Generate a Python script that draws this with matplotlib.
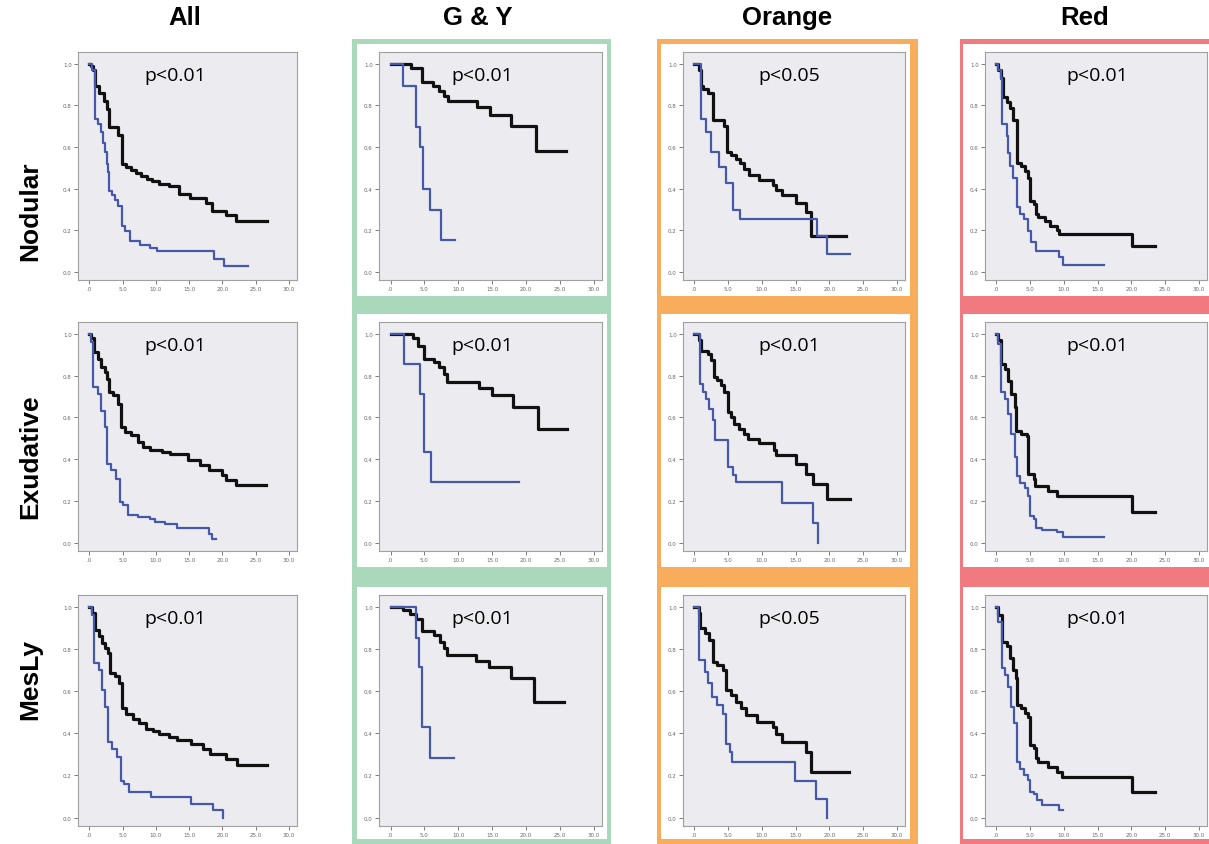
import matplotlib.pyplot as plt
from matplotlib.patches import Rectangle

# column / row names
col_titles = ["All", "G & Y", "Orange", "Red"]
row_titles = ["Nodular", "Exudative", "MesLy"]
p_labels = [["p<0.01", "p<0.01", "p<0.05", "p<0.01"],
            ["p<0.01", "p<0.01", "p<0.01", "p<0.01"],
            ["p<0.01", "p<0.01", "p<0.05", "p<0.01"]]

x_ticks = [0, 5, 10, 15, 20, 25, 30]
x_tick_labels = [".0", "5.0", "10.0", "15.0", "20.0", "25.0", "30.0"]
y_ticks = [0.0, 0.2, 0.4, 0.6, 0.8, 1.0]
y_tick_labels = ["0.0", "0.2", "0.4", "0.6", "0.8", "1.0"]

# ---- Nodular ----
nod_all_blk_t = [0, 0.3, 0.6, 0.86, 1.5, 2.2, 2.7, 3.0, 4.3, 4.9, 5.5, 6.3, 7.0, 7.8, 8.6, 9.4, 10.4, 11.9, 13.4, 15.2, 17.5, 18.5, 20.5, 22.0, 26.7]
nod_all_blk_s = [1.0, 0.99, 0.97, 0.893, 0.86, 0.82, 0.785, 0.694, 0.657, 0.52, 0.505, 0.49, 0.475, 0.458, 0.445, 0.434, 0.42, 0.41, 0.375, 0.354, 0.33, 0.29, 0.274, 0.242, 0.242]
nod_all_blu_t = [0, 0.4, 0.86, 1.3, 1.8, 2.0, 2.3, 2.6, 2.8, 3.0, 3.4, 3.8, 4.3, 4.9, 5.4, 6.1, 7.6, 9.1, 10.1, 18.7, 20.2, 23.8]
nod_all_blu_s = [1.0, 0.97, 0.737, 0.71, 0.673, 0.62, 0.577, 0.52, 0.48, 0.386, 0.37, 0.346, 0.314, 0.218, 0.195, 0.15, 0.13, 0.115, 0.099, 0.059, 0.027, 0.027]

nod_gy_blk_t = [0, 3.0, 4.7, 6.2, 7.1, 7.9, 8.5, 12.7, 14.7, 17.8, 21.5, 25.9]
nod_gy_blk_s = [1.0, 0.978, 0.914, 0.893, 0.87, 0.846, 0.822, 0.79, 0.754, 0.7, 0.583, 0.583]
nod_gy_blu_t = [0, 1.9, 3.8, 4.3, 4.8, 5.8, 7.5, 9.5]
nod_gy_blu_s = [1.0, 0.893, 0.695, 0.6, 0.4, 0.297, 0.151, 0.151]

nod_or_blk_t = [0, 0.6, 0.9, 1.2, 2.0, 2.7, 4.4, 4.8, 5.4, 6.1, 6.7, 7.4, 8.1, 9.6, 11.6, 12.1, 13.0, 15.0, 16.5, 17.3, 22.4]
nod_or_blk_s = [1.0, 0.97, 0.894, 0.878, 0.859, 0.728, 0.701, 0.578, 0.562, 0.543, 0.522, 0.495, 0.467, 0.443, 0.419, 0.395, 0.369, 0.332, 0.285, 0.174, 0.174]
nod_or_blu_t = [0, 1.0, 1.7, 2.5, 3.7, 4.6, 5.7, 6.7, 18.2, 19.7, 23.0]
nod_or_blu_s = [1.0, 0.736, 0.672, 0.574, 0.506, 0.427, 0.296, 0.253, 0.171, 0.084, 0.084]

nod_red_blk_t = [0, 0.3, 0.74, 0.9, 1.5, 2.0, 2.5, 3.0, 3.1, 3.7, 4.2, 4.7, 4.9, 5.5, 5.8, 6.2, 7.2, 7.9, 8.9, 9.2, 20.1, 23.5]
nod_red_blk_s = [1.0, 0.97, 0.93, 0.841, 0.817, 0.786, 0.73, 0.659, 0.524, 0.508, 0.484, 0.452, 0.341, 0.325, 0.278, 0.262, 0.246, 0.222, 0.202, 0.183, 0.122, 0.122]
nod_red_blu_t = [0, 0.3, 0.7, 0.84, 1.5, 1.7, 2.0, 2.5, 3.0, 3.5, 4.1, 4.7, 5.1, 5.8, 9.2, 9.8, 16.0]
nod_red_blu_s = [1.0, 0.97, 0.93, 0.71, 0.651, 0.571, 0.508, 0.452, 0.31, 0.278, 0.254, 0.198, 0.143, 0.098, 0.071, 0.032, 0.032]

# ---- Exudative ----
exu_all_blk_t = [0, 0.3, 0.76, 1.3, 1.8, 2.3, 2.7, 2.9, 3.5, 4.3, 4.7, 5.3, 6.3, 7.3, 8.1, 9.1, 10.9, 12.1, 14.9, 16.7, 18.0, 20.0, 20.5, 22.0, 26.6]
exu_all_blk_s = [1.0, 0.98, 0.912, 0.88, 0.84, 0.817, 0.785, 0.721, 0.705, 0.665, 0.553, 0.53, 0.514, 0.482, 0.458, 0.442, 0.434, 0.426, 0.394, 0.37, 0.346, 0.322, 0.298, 0.274, 0.274]
exu_all_blu_t = [0, 0.3, 0.6, 1.3, 1.8, 2.3, 2.7, 3.3, 4.0, 4.6, 5.1, 5.8, 7.3, 9.1, 9.9, 11.4, 13.2, 18.0, 18.5, 19.0]
exu_all_blu_s = [1.0, 0.96, 0.745, 0.713, 0.633, 0.553, 0.378, 0.346, 0.306, 0.195, 0.179, 0.131, 0.123, 0.115, 0.099, 0.088, 0.072, 0.043, 0.019, 0.019]

exu_gy_blk_t = [0, 3.3, 4.0, 4.9, 6.4, 7.1, 7.9, 8.4, 13.0, 15.0, 18.1, 21.7, 26.0]
exu_gy_blk_s = [1.0, 0.981, 0.94, 0.881, 0.865, 0.841, 0.81, 0.77, 0.743, 0.706, 0.651, 0.544, 0.544]
exu_gy_blu_t = [0, 2.0, 4.4, 4.9, 5.9, 18.9]
exu_gy_blu_s = [1.0, 0.857, 0.714, 0.433, 0.289, 0.289]

exu_or_blk_t = [0, 0.7, 1.0, 2.0, 2.5, 2.9, 3.4, 3.9, 4.4, 4.9, 5.4, 5.9, 6.6, 7.4, 7.9, 9.6, 11.8, 12.1, 15.0, 16.5, 17.5, 19.7, 23.1]
exu_or_blk_s = [1.0, 0.97, 0.92, 0.904, 0.873, 0.793, 0.777, 0.753, 0.721, 0.626, 0.602, 0.57, 0.546, 0.522, 0.498, 0.475, 0.443, 0.419, 0.379, 0.331, 0.283, 0.209, 0.209]
exu_or_blu_t = [0, 0.84, 1.2, 1.7, 2.2, 2.7, 3.0, 4.9, 5.7, 6.2, 13.0, 17.5, 18.3]
exu_or_blu_s = [1.0, 0.758, 0.721, 0.69, 0.642, 0.586, 0.49, 0.363, 0.323, 0.291, 0.188, 0.092, 0.0]

exu_red_blk_t = [0, 0.3, 0.6, 0.74, 1.2, 1.7, 2.2, 2.7, 2.9, 3.7, 4.5, 4.7, 5.5, 5.7, 7.7, 8.9, 20.1, 23.5]
exu_red_blk_s = [1.0, 0.97, 0.95, 0.856, 0.832, 0.776, 0.712, 0.648, 0.536, 0.52, 0.512, 0.328, 0.304, 0.272, 0.248, 0.224, 0.149, 0.149]
exu_red_blu_t = [0, 0.3, 0.74, 1.2, 1.7, 2.2, 2.7, 3.0, 3.5, 4.2, 4.7, 4.9, 5.5, 5.8, 6.7, 8.9, 9.9, 16.0]
exu_red_blu_s = [1.0, 0.95, 0.72, 0.688, 0.616, 0.52, 0.408, 0.32, 0.288, 0.264, 0.224, 0.128, 0.112, 0.072, 0.059, 0.053, 0.027, 0.027]

# ---- MesLy ----
mes_all_blk_t = [0, 0.4, 0.8, 1.4, 1.9, 2.4, 2.8, 3.1, 3.9, 4.5, 4.9, 5.5, 6.5, 7.5, 8.5, 9.5, 10.5, 12.0, 13.1, 15.3, 17.1, 18.1, 20.6, 22.2, 26.7]
mes_all_blk_s = [1.0, 0.97, 0.893, 0.861, 0.83, 0.806, 0.781, 0.686, 0.67, 0.638, 0.518, 0.494, 0.47, 0.447, 0.423, 0.411, 0.399, 0.383, 0.367, 0.351, 0.327, 0.303, 0.279, 0.252, 0.252]
mes_all_blu_t = [0, 0.4, 0.7, 1.4, 1.9, 2.4, 2.8, 3.4, 4.2, 4.7, 5.2, 6.0, 9.3, 15.3, 18.6, 20.1]
mes_all_blu_s = [1.0, 0.96, 0.734, 0.702, 0.606, 0.526, 0.359, 0.327, 0.287, 0.175, 0.159, 0.12, 0.099, 0.064, 0.035, 0.0]

mes_gy_blk_t = [0, 1.8, 2.8, 3.7, 4.7, 6.4, 7.3, 7.9, 8.3, 12.6, 14.6, 17.8, 21.2, 25.6]
mes_gy_blk_s = [1.0, 0.987, 0.967, 0.944, 0.884, 0.868, 0.836, 0.804, 0.772, 0.745, 0.713, 0.661, 0.549, 0.549]
mes_gy_blu_t = [0, 3.7, 4.2, 4.7, 5.8, 9.3]
mes_gy_blu_s = [1.0, 0.852, 0.713, 0.43, 0.283, 0.283]

mes_or_blk_t = [0, 0.7, 0.84, 1.5, 2.2, 2.7, 3.4, 4.2, 4.7, 5.4, 6.1, 6.9, 7.6, 9.3, 11.6, 12.1, 13.0, 16.5, 17.2, 22.9]
mes_or_blk_s = [1.0, 0.97, 0.9, 0.876, 0.844, 0.74, 0.725, 0.701, 0.605, 0.581, 0.549, 0.518, 0.486, 0.454, 0.43, 0.398, 0.358, 0.311, 0.215, 0.215]
mes_or_blu_t = [0, 0.74, 1.5, 2.0, 2.6, 3.4, 4.3, 4.7, 5.2, 5.6, 14.9, 18.0, 19.7]
mes_or_blu_s = [1.0, 0.748, 0.693, 0.637, 0.573, 0.533, 0.494, 0.35, 0.311, 0.263, 0.175, 0.088, 0.0]

mes_red_blk_t = [0, 0.3, 0.84, 1.5, 2.0, 2.5, 2.9, 3.0, 3.7, 4.2, 4.7, 4.9, 5.5, 5.8, 6.2, 7.7, 8.9, 9.7, 20.1, 23.5]
mes_red_blk_s = [1.0, 0.96, 0.832, 0.813, 0.757, 0.702, 0.662, 0.535, 0.519, 0.498, 0.479, 0.344, 0.329, 0.281, 0.265, 0.241, 0.217, 0.194, 0.122, 0.122]
mes_red_blu_t = [0, 0.3, 0.84, 1.2, 1.7, 2.2, 2.6, 3.0, 3.5, 4.1, 4.7, 4.9, 5.5, 6.0, 6.7, 9.2, 9.9]
mes_red_blu_s = [1.0, 0.93, 0.71, 0.678, 0.622, 0.527, 0.448, 0.265, 0.233, 0.202, 0.178, 0.122, 0.114, 0.083, 0.059, 0.035, 0.035]

curves = [
    [(nod_all_blk_t, nod_all_blk_s, nod_all_blu_t, nod_all_blu_s),
     (nod_gy_blk_t, nod_gy_blk_s, nod_gy_blu_t, nod_gy_blu_s),
     (nod_or_blk_t, nod_or_blk_s, nod_or_blu_t, nod_or_blu_s),
     (nod_red_blk_t, nod_red_blk_s, nod_red_blu_t, nod_red_blu_s)],
    [(exu_all_blk_t, exu_all_blk_s, exu_all_blu_t, exu_all_blu_s),
     (exu_gy_blk_t, exu_gy_blk_s, exu_gy_blu_t, exu_gy_blu_s),
     (exu_or_blk_t, exu_or_blk_s, exu_or_blu_t, exu_or_blu_s),
     (exu_red_blk_t, exu_red_blk_s, exu_red_blu_t, exu_red_blu_s)],
    [(mes_all_blk_t, mes_all_blk_s, mes_all_blu_t, mes_all_blu_s),
     (mes_gy_blk_t, mes_gy_blk_s, mes_gy_blu_t, mes_gy_blu_s),
     (mes_or_blk_t, mes_or_blk_s, mes_or_blu_t, mes_or_blu_s),
     (mes_red_blk_t, mes_red_blk_s, mes_red_blu_t, mes_red_blu_s)],
]

# layout in pixels
W, H = 1209, 845
col_left = [78, 379, 683, 985]
col_right = [297, 602, 905, 1207]
row_top = [53, 323, 596]
row_bot = [281, 552, 827]
col_bg = [None, "#a9d9ba", "#f8ad5c", "#f07a7f"]
col_bg_x = [None, (352, 611), (657, 918), (960, 1215)]
title_x = [185, 478, 787, 1085]
row_label_y = [211, 457, 680]
p_x = [0.443, 0.462, 0.48, 0.507]


def fx(px):
    return px / W


def fy(py):
    return 1 - py / H


fig = plt.figure(figsize=(W / 100, H / 100), dpi=100)

# coloured column backgrounds with white panel frames
for c in range(1, 4):
    x0, x1 = col_bg_x[c]
    fig.add_artist(Rectangle((fx(x0), fy(845)), (x1 - x0) / W, (845 - 40) / H,
                             transform=fig.transFigure, facecolor=col_bg[c],
                             edgecolor="none", zorder=-3))
    for r in range(3):
        l, rr = col_left[c] - 22, min(col_right[c] + 5, 1215)
        t, b = row_top[r] - 8, min(row_bot[r] + 16, 840)
        fig.add_artist(Rectangle((fx(l), fy(b)), (rr - l) / W, (b - t) / H,
                                 transform=fig.transFigure, facecolor="white",
                                 edgecolor="none", zorder=-2))

for r in range(3):
    for c in range(4):
        l, rr = col_left[c], col_right[c]
        t, b = row_top[r], row_bot[r]
        ax = fig.add_axes([fx(l), fy(b), (rr - l) / W, (b - t) / H])
        ax.set_facecolor("#ececf0")
        bt, bs, ut, us = curves[r][c]
        ax.step(bt, bs, where="post", color="#111111", lw=2.3)
        ax.step(ut, us, where="post", color="#4658a8", lw=1.6)
        ax.set_xlim(-1.7, 31.2)
        ax.set_ylim(-0.04, 1.057)
        ax.set_xticks(x_ticks)
        ax.set_xticklabels(x_tick_labels)
        ax.set_yticks(y_ticks)
        ax.set_yticklabels(y_tick_labels)
        ax.tick_params(labelsize=4, colors="#666666", length=3, width=0.6, pad=1.5)
        for sp in ax.spines.values():
            sp.set_color("#a0a0a0")
            sp.set_linewidth(0.8)
        ax.text(p_x[c], 0.9, p_labels[r][c], transform=ax.transAxes,
                ha="center", va="center", fontsize=14, family="Open Sans")

for c in range(4):
    fig.text(fx(title_x[c]), fy(18), col_titles[c], ha="center", va="center",
             fontsize=18.5, fontweight="bold", family="Liberation Sans")

for r in range(3):
    fig.text(fx(30), fy(row_label_y[r]), row_titles[r], ha="center", va="center",
             rotation=90, fontsize=19, fontweight="bold", family="Liberation Sans")

fig.savefig("out.png", dpi=100)
